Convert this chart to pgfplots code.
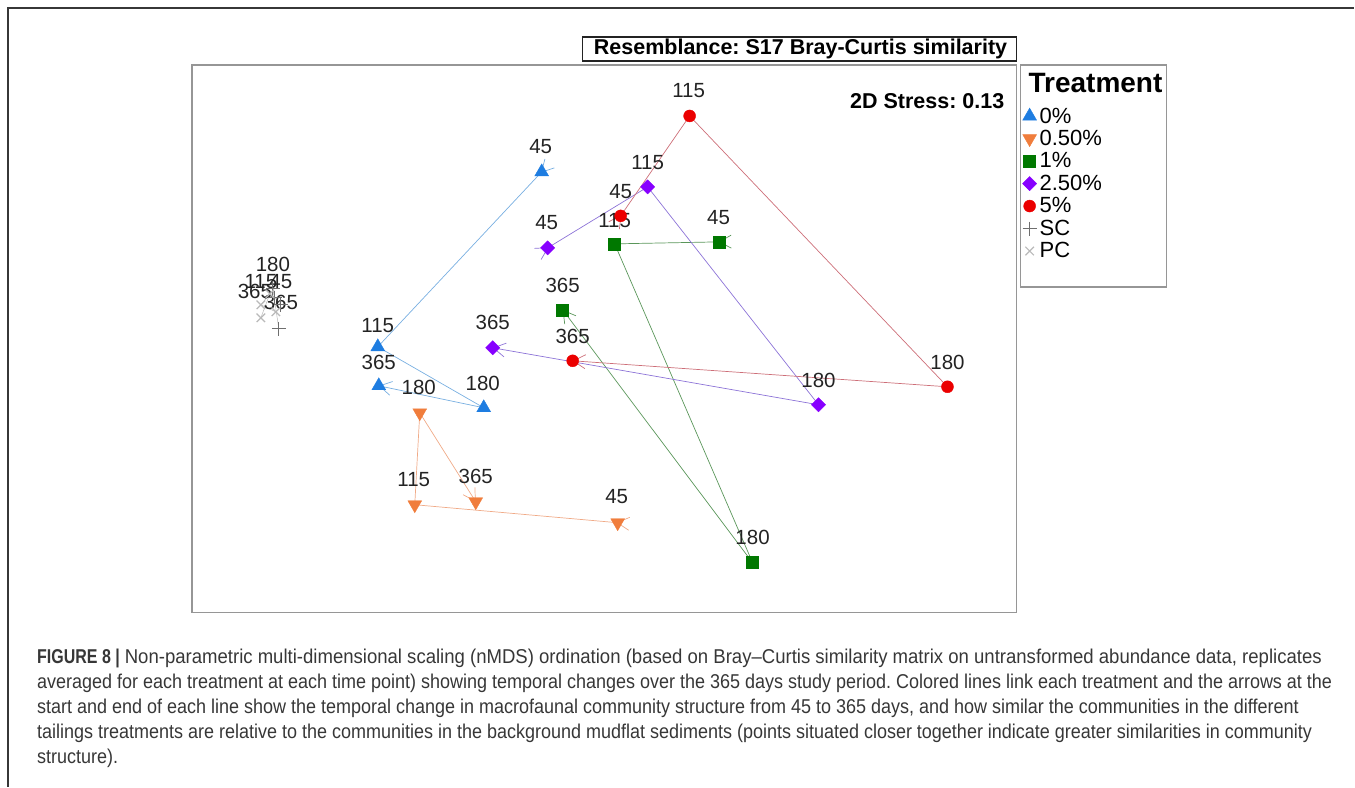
\documentclass[border=0pt]{standalone}
\usepackage{pgfplots}
\pgfplotsset{compat=1.18}
\usepackage{pgfplotstable}
\usepackage{fontspec}
\setmainfont{Liberation Sans}
\newfontfamily\capfont[FakeStretch=0.90]{Liberation Sans}
\newfontfamily\capfonta[FakeStretch=0.928]{Liberation Sans}
\newfontfamily\capfontb[FakeStretch=0.80]{Liberation Sans}
\usetikzlibrary{arrows.meta}
\frenchspacing

\definecolor{cblue}{RGB}{30,125,225}
\definecolor{lblue}{RGB}{120,175,225}
\definecolor{corange}{RGB}{240,125,60}
\definecolor{lorange}{RGB}{240,170,135}
\definecolor{cgreen}{RGB}{0,120,0}
\definecolor{lgreen}{RGB}{90,150,90}
\definecolor{cpurple}{RGB}{135,0,255}
\definecolor{lpurple}{RGB}{140,115,215}
\definecolor{cred}{RGB}{235,0,0}
\definecolor{lred}{RGB}{205,110,120}
\definecolor{csc}{RGB}{110,110,110}
\definecolor{cpc}{RGB}{185,185,185}
\definecolor{txt}{RGB}{35,35,35}
\definecolor{capgray}{RGB}{55,55,55}
\definecolor{boxgray}{RGB}{150,150,150}

% nMDS coordinates (x right, y up; order 45, 115, 180, 365 days)
\pgfplotstableread{
x y
542 -172
378 -347
484 -408
379 -386
}\tzero
\pgfplotstableread{
x y
618 -523
415 -505
420 -413
476 -502
}\thalf
\pgfplotstableread{
x y
720 -242
615 -244
753 -563
563 -310
}\tone
\pgfplotstableread{
x y
548 -248
648 -187
819 -405
493 -348
}\ttwo
\pgfplotstableread{
x y
621 -216
690 -116
948 -387
573 -361
}\tfive
\pgfplotstableread{
x y
281 -305
275 -298
273 -289
279 -329
}\tsc
\pgfplotstableread{
x y
276 -312
261 -305
270 -294
261 -318
}\tpc

\newcommand{\lab}[3]{\node[font=\fontsize{20.5}{22}\selectfont, text=txt, inner sep=0pt] at (axis cs:#1,#2) {#3};}

% start arrow sits on the 45-day point with its barbs outside, end arrow points into 365
\tikzset{trk/.style={line width=0.7pt, shorten <=-12pt,
  {Straight Barb[reversed,length=12pt,width=13pt]}-{Straight Barb[length=12pt,width=14pt]}}}

\begin{document}
\begin{tikzpicture}
\begin{axis}[
  scale only axis, width=825pt, height=548pt,
  xmin=192, xmax=1017, ymin=-613, ymax=-65,
  xtick=\empty, ytick=\empty,
  axis line style={draw=boxgray, line width=1.5pt},
  clip=false,
  legend style={draw=none, fill=none, at={(1.00606,0.9275)}, anchor=north west,
    font=\fontsize{22}{24}\selectfont, inner sep=0pt, row sep=0pt,
    nodes={inner sep=1pt}},
  legend cell align=left,
  legend image code/.code={\path[draw=none, fill=none] (-8pt,-11.25pt) rectangle (9pt,11.25pt); \draw[#1] plot coordinates {(0pt,0pt)};},
]
% picture extent
\path (axis cs:0,0) rectangle (axis cs:1355,-787);
\draw[line width=1.5pt, capgray] (axis cs:8,-787) -- (axis cs:8,-8) -- (axis cs:1355,-8);

% connecting lines first
\addplot[trk, lblue, forget plot] table {\tzero};
\addplot[trk, lorange, forget plot] table {\thalf};
\addplot[trk, lgreen, forget plot] table {\tone};
\addplot[trk, lpurple, forget plot] table {\ttwo};
\addplot[trk, lred, forget plot] table {\tfive};
\addplot[line width=0.5pt, cpc, forget plot] table {\tsc};
\addplot[line width=0.5pt, cpc, forget plot] table {\tpc};

% markers
\addplot[only marks, mark=triangle*, mark size=8pt, cblue, mark options={draw=cblue, fill=cblue}] table {\tzero};
\addlegendentry{0\%}
\addplot[only marks, mark=triangle*, mark size=8pt, corange, mark options={rotate=180, draw=corange, fill=corange}] table {\thalf};
\addlegendentry{0.50\%}
\addplot[only marks, mark=square*, mark size=6pt, cgreen, mark options={draw=cgreen, fill=cgreen}] table {\tone};
\addlegendentry{1\%}
\addplot[only marks, mark=square*, mark size=5pt, cpurple, mark options={rotate=45, draw=cpurple, fill=cpurple}] table {\ttwo};
\addlegendentry{2.50\%}
\addplot[only marks, mark=*, mark size=6pt, cred, mark options={draw=cred, fill=cred}] table {\tfive};
\addlegendentry{5\%}
\addplot[only marks, mark=+, mark size=7pt, csc, mark options={line width=1.2pt}] table {\tsc};
\addlegendentry{SC}
\addplot[only marks, mark=x, mark size=6pt, cpc, mark options={line width=1.2pt}] table {\tpc};
\addlegendentry{PC}

% point labels (days)
\lab{541}{-147}{45}\lab{378}{-326}{115}\lab{483}{-384}{180}\lab{379}{-363}{365}
\lab{617}{-497}{45}\lab{414}{-480}{115}\lab{419}{-388}{180}\lab{476}{-477}{365}
\lab{719}{-218}{45}\lab{615}{-221}{115}\lab{753}{-538}{180}\lab{563}{-286}{365}
\lab{547}{-223}{45}\lab{648}{-163}{115}\lab{819}{-381}{180}\lab{493}{-323}{365}
\lab{621}{-192}{45}\lab{689}{-91}{115}\lab{948}{-363}{180}\lab{573}{-337}{365}
\lab{273}{-265}{180}\lab{261}{-282}{115}\lab{281}{-282}{45}\lab{255}{-292}{365}\lab{281}{-303}{365}

% title, stress, legend frame
\draw[line width=1.2pt, txt] (axis cs:583,-37) rectangle (axis cs:1017,-61);
\node[font=\bfseries\fontsize{21.5}{23}\selectfont, text=black, inner sep=0pt] at (axis cs:801,-49) {Resemblance: S17 Bray-Curtis similarity};
\node[font=\bfseries\fontsize{21.5}{23}\selectfont, text=black, inner sep=0pt, anchor=east] at (axis cs:1005,-101) {2D Stress: 0.13};
\draw[line width=1.5pt, boxgray] (axis cs:1021,-65) rectangle (axis cs:1167,-287);
\node[font=\bfseries\fontsize{28}{30}\selectfont, text=black, inner sep=0pt, anchor=west] at (axis cs:1029,-83) {Treatment};

% caption
\begin{scope}[every node/.style={anchor=base west, inner sep=0pt, text=capgray, font=\capfont\fontsize{20}{22}\selectfont}]
\node at (axis cs:37,-664) {{\capfontb\bfseries FIGURE 8 |} {\capfonta Non-parametric multi-dimensional scaling (nMDS) ordination (based on Bray–Curtis similarity matrix on untransformed abundance data, replicates}};
\node at (axis cs:37,-689) {averaged for each treatment at each time point) showing temporal changes over the 365 days study period. Colored lines link each treatment and the arrows at the};
\node at (axis cs:37,-714) {start and end of each line show the temporal change in macrofaunal community structure from 45 to 365 days, and how similar the communities in the different};
\node at (axis cs:37,-739) {tailings treatments are relative to the communities in the background mudflat sediments (points situated closer together indicate greater similarities in community};
\node at (axis cs:37,-764) {structure).};
\end{scope}
\end{axis}
\end{tikzpicture}
\end{document}
